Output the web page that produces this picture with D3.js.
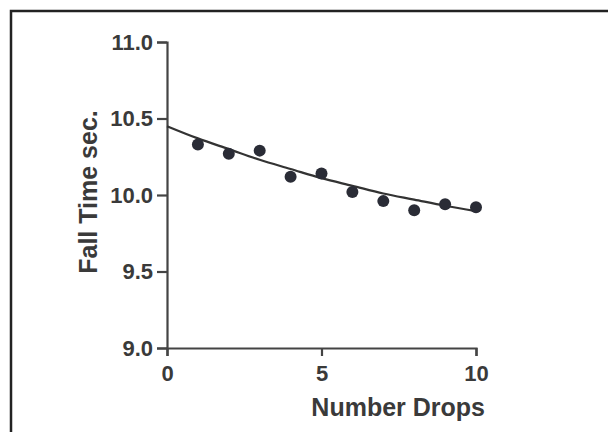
<!DOCTYPE html>
<html>
<head>
<meta charset="utf-8">
<script src="https://cdn.jsdelivr.net/npm/d3@7"></script>
<style>
  html, body { margin: 0; padding: 0; background: #fff; }
  svg { display: block; }
  text { font-family: "Liberation Sans", Arial, sans-serif; font-weight: bold; fill: #3a3a3a; }
</style>
</head>
<body>
<svg id="chart" width="608" height="432"></svg>
<script>
// measured drops
var drops = [1, 2, 3, 4, 5, 6, 7, 8, 9, 10];
var fallTime = [10.33, 10.27, 10.29, 10.12, 10.14, 10.02, 9.96, 9.90, 9.94, 9.92];

// fitted curve
var curveX = [0, 1, 2, 3, 4, 5, 6, 7, 8, 9, 10];
var curveY = [10.45, 10.37, 10.30, 10.23, 10.17, 10.11, 10.06, 10.01, 9.97, 9.93, 9.895];

var xTicks = [0, 5, 10];
var yTicks = [9.0, 9.5, 10.0, 10.5, 11.0];

var svg = d3.select("#chart");

// frame around the figure (runs off the right and bottom edges)
svg.append("rect")
  .attr("x", 11)
  .attr("y", 11)
  .attr("width", 640)
  .attr("height", 460)
  .attr("fill", "none")
  .attr("stroke", "#222")
  .attr("stroke-width", 2.5);

var x = d3.scaleLinear()
  .domain([0, 10])
  .range([167, 476]);

var y = d3.scaleLinear()
  .domain([9, 11])
  .range([348, 42]);

var xAxis = svg.append("g")
  .attr("transform", "translate(0,348)")
  .call(d3.axisBottom(x).tickValues(xTicks).tickSize(8).tickPadding(9).tickFormat(d3.format("d")));

var yAxis = svg.append("g")
  .attr("transform", "translate(167,0)")
  .call(d3.axisLeft(y).tickValues(yTicks).tickSize(10).tickPadding(4).tickFormat(d3.format(".1f")));

[xAxis, yAxis].forEach(function(g){
  g.select(".domain").attr("stroke", "#444").attr("stroke-width", 2.2);
  g.selectAll(".tick line").attr("stroke", "#444").attr("stroke-width", 2.2);
  g.selectAll(".tick text")
    .attr("fill", "#3a3a3a")
    .style("font-size", "22px")
    .style("font-weight", "bold")
    .style("font-family", "'Liberation Sans', Arial, sans-serif");
});

var line = d3.line()
  .x(function(d, i){ return x(curveX[i]); })
  .y(function(d){ return y(d); })
  .curve(d3.curveMonotoneX);

svg.append("path")
  .attr("d", line(curveY))
  .attr("fill", "none")
  .attr("stroke", "#333")
  .attr("stroke-width", 2.2);

svg.selectAll("circle.pt")
  .data(fallTime)
  .enter().append("circle")
  .attr("class", "pt")
  .attr("cx", function(d, i){ return x(drops[i]); })
  .attr("cy", function(d){ return y(d); })
  .attr("r", 6)
  .attr("fill", "#2a2c36");

svg.append("text")
  .attr("x", 485)
  .attr("y", 416)
  .attr("text-anchor", "end")
  .style("font-size", "25px")
  .text("Number Drops");

svg.append("text")
  .attr("transform", "translate(97,192) rotate(-90)")
  .attr("text-anchor", "middle")
  .style("font-size", "25px")
  .text("Fall Time sec.");
</script>
</body>
</html>
